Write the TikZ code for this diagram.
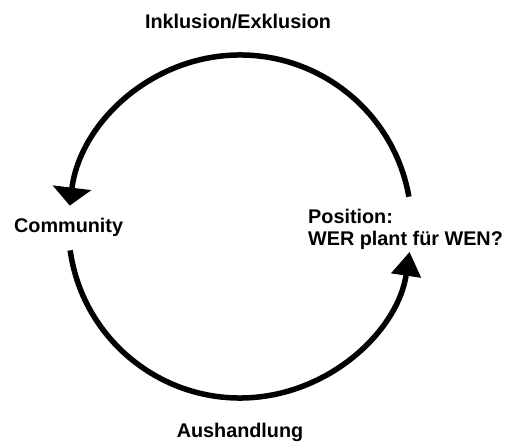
\documentclass[tikz,border=0pt]{standalone}
\usepackage{fontspec}
\setmainfont{Liberation Sans}
\usepackage{tikz}
\usetikzlibrary{arrows.meta,positioning}

\tikzset{
    label text/.style={font=\fontsize{19.8}{22}\selectfont\bfseries, inner sep=0pt, anchor=base west},
    cycle arc/.style={line width=5.5pt}
}

\begin{document}
\begin{tikzpicture}[x=1pt,y=1pt]
    \useasboundingbox (0,0) rectangle (508,444);
    \coordinate (ctr) at (240,217.5);

    \node[label text, anchor=base] (incl) at (238,415) {Inklusion/Exklusion};
    \node[label text] (comm) at (14,211) {Community};
    \node[label text, align=left] (pos) at (308,198) {Position:\\WER plant f\"ur WEN?};
    \node[label text, anchor=base] (neg) at (240,7) {Aushandlung};

    % upper arc: Position -> Community
    \draw[cycle arc, -{Triangle[width=38pt,length=18pt]}] (ctr) ++(10:171.5) arc[start angle=10, end angle=173, radius=171.5];
    % lower arc: Community -> Position
    \draw[cycle arc, -{Triangle[width=29pt,length=24pt]}] (ctr) ++(188:171.5) arc[start angle=188, end angle=351.5, radius=171.5];
\end{tikzpicture}
\end{document}
